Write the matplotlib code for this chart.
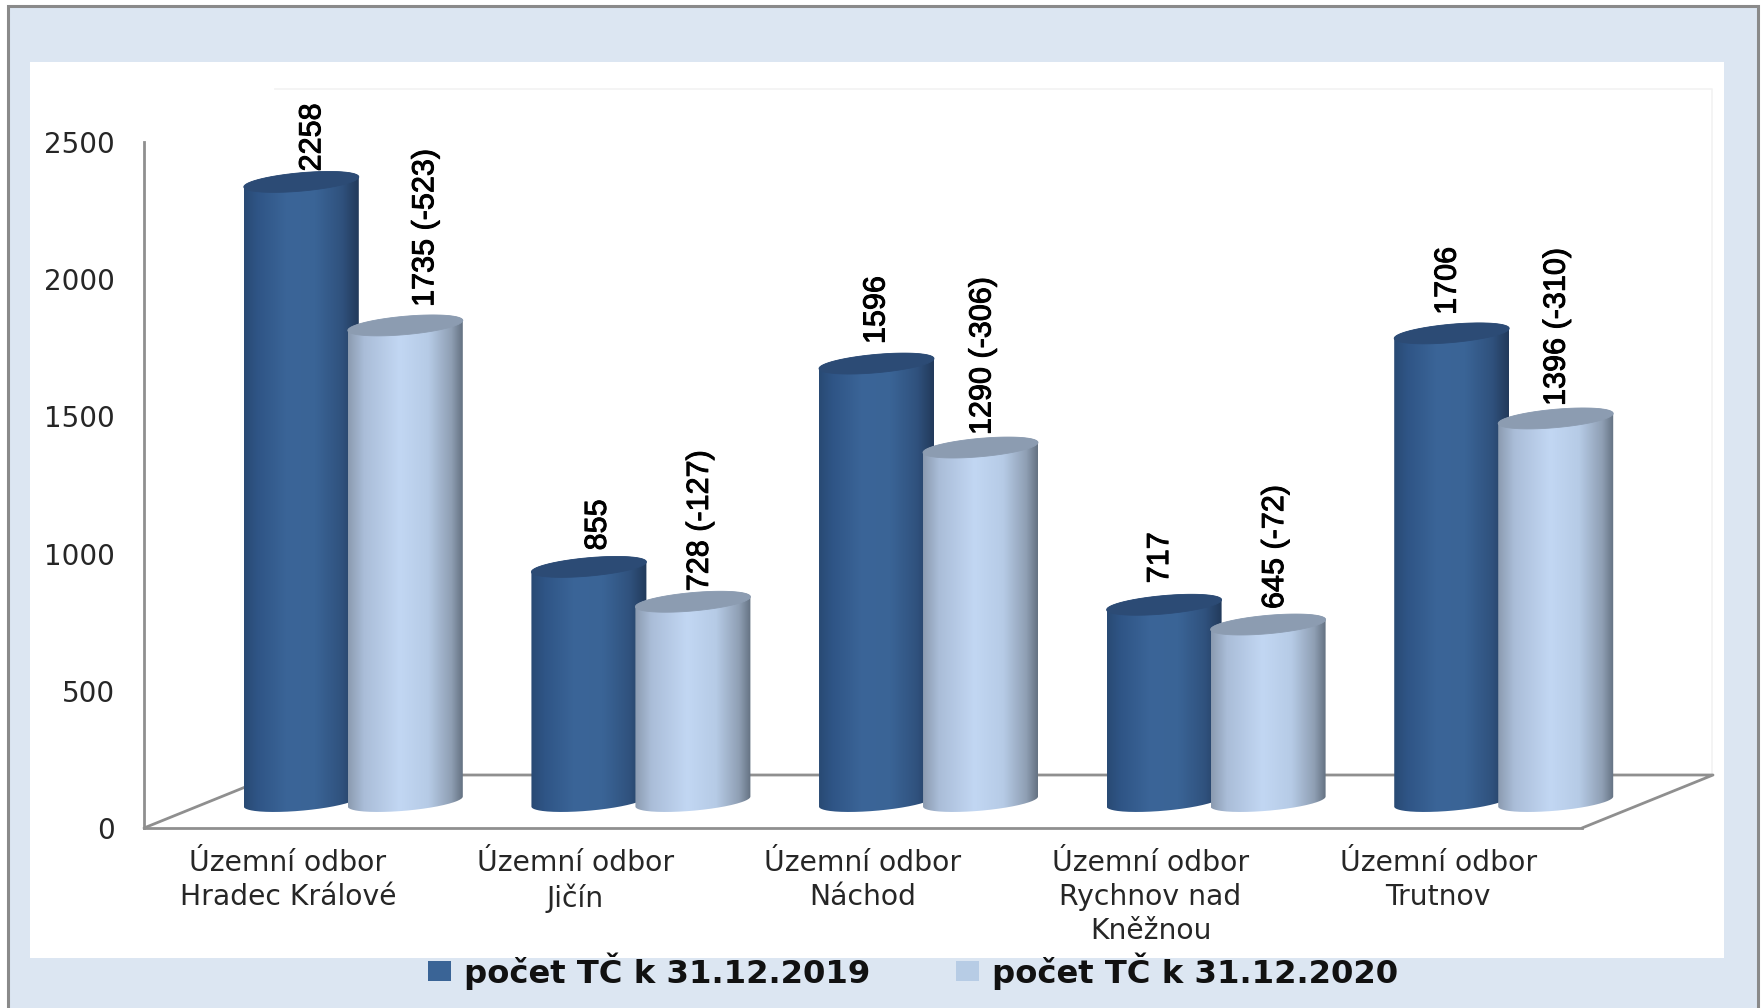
import numpy as np
import matplotlib
matplotlib.use("Agg")
import matplotlib.pyplot as plt
import matplotlib.patheffects as pe
from matplotlib.colors import LinearSegmentedColormap
from matplotlib.lines import Line2D
from matplotlib.patches import Patch, Polygon, Rectangle
from matplotlib.path import Path
from matplotlib.transforms import Affine2D, offset_copy

# ---------- data ----------
categories = ["Územní odbor\nHradec Králové", "Územní odbor\nJičín", "Územní odbor\nNáchod",
              "Územní odbor\nRychnov nad\nKněžnou", "Územní odbor\nTrutnov"]
values_2019 = [2258, 855, 1596, 717, 1706]
values_2020 = [1735, 728, 1290, 645, 1396]
labels_2019 = ["2258", "855", "1596", "717", "1706"]
labels_2020 = ["1735 (-523)", "728 (-127)", "1290 (-306)", "645 (-72)", "1396 (-310)"]
y_ticks = [0, 500, 1000, 1500, 2000, 2500]
series_names = ["počet TČ k 31.12.2019", "počet TČ k 31.12.2020"]

# ---------- layout (pixels) ----------
W, H = 1765, 1008
AX_L, AX_R, AX_B, AX_T = 144, 1582, 828, 142
DEPTH_X, DEPTH_Y = 131, 53
GRAY = "#8F8F8F"

stops_a = [(0, "#294A74"), (.12, "#2F5586"), (.38, "#3B6598"), (.62, "#3A6496"), (.85, "#30527E"), (1, "#223A5B")]
stops_b = [(0, "#8B9BB0"), (.14, "#AABDD8"), (.45, "#C2D7F3"), (.7, "#B6CBE6"), (.9, "#8F9FB4"), (1, "#647282")]
cap_a, cap_b = "#2C4B75", "#8C9CB1"
swatch_a, swatch_b = "#3A6496", "#B7CCE5"

# per-label placement in pixels (dx from the bar centre, gap above the cap)
dx_2019, gap_2019 = [11, 9, 0, -4, -4], [0, 6, 9, 11, 8]
dx_2020, gap_2020 = [20, 7, 2, 7, 1], [8, 0, 2, 5, 2]

fig = plt.figure(figsize=(W / 100, H / 100), dpi=100, facecolor="white")


def fx(x):
    return x / W


def fy(y):
    return 1 - y / H


def frect(x0, y0, x1, y1, **kw):
    fig.add_artist(Rectangle((fx(x0), fy(y1)), fx(x1) - fx(x0), fy(y0) - fy(y1),
                             transform=fig.transFigure, **kw))


def fline(xs, ys, **kw):
    fig.add_artist(Line2D([fx(x) for x in xs], [fy(y) for y in ys], transform=fig.transFigure, **kw))


# frame and panel
frect(8, 6, 1758, 1030, facecolor="#DCE6F2", edgecolor="#8A8A8A", linewidth=2.2, clip_on=True)
frect(30, 62, 1724, 958, facecolor="white", edgecolor="none")

# back wall, very faint
fline([AX_L + DEPTH_X, 1712, 1712], [AX_T - DEPTH_Y, AX_T - DEPTH_Y, AX_B - DEPTH_Y], color="#F2F2F2", lw=1.2)

# floor
floor_kw = dict(color=GRAY, lw=2.0, solid_capstyle="round")
fline([AX_L, AX_L + DEPTH_X], [AX_B, AX_B - DEPTH_Y], **floor_kw)
fline([AX_R, AX_R + DEPTH_X, AX_L + DEPTH_X], [AX_B, AX_B - DEPTH_Y, AX_B - DEPTH_Y], **floor_kw)

ax = fig.add_axes([fx(AX_L), fy(AX_B), fx(AX_R) - fx(AX_L), fy(AX_T) - fy(AX_B)])
ax.set_zorder(5)
ax.patch.set_visible(False)
ax.set_xlim(0, 5)
ax.set_ylim(0, 2500)
for s in ("top", "right"):
    ax.spines[s].set_visible(False)
for s in ("left", "bottom"):
    ax.spines[s].set_color(GRAY)
    ax.spines[s].set_linewidth(2.0)
ax.set_yticks(y_ticks)
ax.set_xticks(np.arange(len(categories)) + 0.5)
ax.set_xticklabels(categories, fontsize=20.3, color="#262626", linespacing=1.27)
ax.tick_params(axis="x", length=0, pad=15)
ax.tick_params(axis="y", length=0, pad=21, labelsize=20, labelcolor="#262626")

# cylinders stand in the middle of the floor's depth
cyl = ax.transData + Affine2D().translate(DEPTH_X / 2, DEPTH_Y / 2)

px_x = (AX_R - AX_L) / 5
px_y = (AX_B - AX_T) / 2500
half_w = 57.5 / px_x
shift = 52 / px_x
ell_b = 9.2 / px_y
ell_s = 5.0 / px_y
t = np.linspace(0, 2 * np.pi, 181)


def ellipse(cx, v, start=0.0, stop=2 * np.pi):
    tt = t[(t >= start) & (t <= stop + 1e-9)]
    return (cx + half_w * np.cos(tt), v + ell_b * np.sin(tt) + ell_s * np.cos(tt))


def cylinder(cx, v, cmap, cap, z):
    # body: top half of cap, then bottom half of base
    xt, yt = ellipse(cx, v, 0, np.pi)
    xb, yb = ellipse(cx, 0, np.pi, 2 * np.pi)
    verts = np.column_stack([np.r_[xt, xb], np.r_[yt, yb]])
    grad = np.linspace(0, 1, 256)[None, :]
    im = ax.imshow(grad, cmap=cmap, aspect="auto", interpolation="bilinear",
                   extent=[cx - half_w, cx + half_w, -200, v + 200], transform=cyl, zorder=z)
    im.set_clip_box(fig.bbox)
    im.set_clip_path(Path(np.vstack([verts, verts[0]])), cyl)
    xc, yc = ellipse(cx, v)
    ax.add_patch(Polygon(np.column_stack([xc, yc]), closed=True, facecolor=cap, edgecolor=cap,
                         linewidth=0.6, transform=cyl, zorder=z + 0.1, clip_on=False))


cmap_a = LinearSegmentedColormap.from_list("a", stops_a)
cmap_b = LinearSegmentedColormap.from_list("b", stops_b)
lab_font = ["Liberation Sans"]
cap_px = 9.2 + 1.3
heavier = [pe.withStroke(linewidth=0.7, foreground="black")]

for i in range(len(categories)):
    xa, xb = i + 0.5 - shift, i + 0.5 + shift
    cylinder(xa, values_2019[i], cmap_a, cap_a, 3 + 2 * i)
    cylinder(xb, values_2020[i], cmap_b, cap_b, 4 + 2 * i)
    for x, v, s, dx, gap in ((xa, values_2019[i], labels_2019[i], dx_2019[i], gap_2019[i]),
                             (xb, values_2020[i], labels_2020[i], dx_2020[i], gap_2020[i])):
        ax.text(x, v, s, rotation=90, ha="center", va="bottom", color="black",
                family=lab_font, fontsize=22, clip_on=False, zorder=30, path_effects=heavier,
                transform=offset_copy(cyl, fig=fig, x=dx, y=cap_px + gap, units="dots"))

ax.set_xlim(0, 5)
ax.set_ylim(0, 2500)

handles = [Patch(facecolor=swatch_a, edgecolor="none"), Patch(facecolor=swatch_b, edgecolor="none")]
leg = fig.legend(handles, series_names, ncol=2, loc="center", bbox_to_anchor=(fx(913), fy(971)),
                 frameon=False, prop=dict(family="DejaVu Sans", weight="bold", size=23.2),
                 handlelength=0.72, handleheight=0.58, handletextpad=0.4, columnspacing=2.65,
                 borderpad=0, labelcolor="#111111")
leg.set_zorder(6)

fig.savefig("out.png", dpi=100, facecolor="white")
